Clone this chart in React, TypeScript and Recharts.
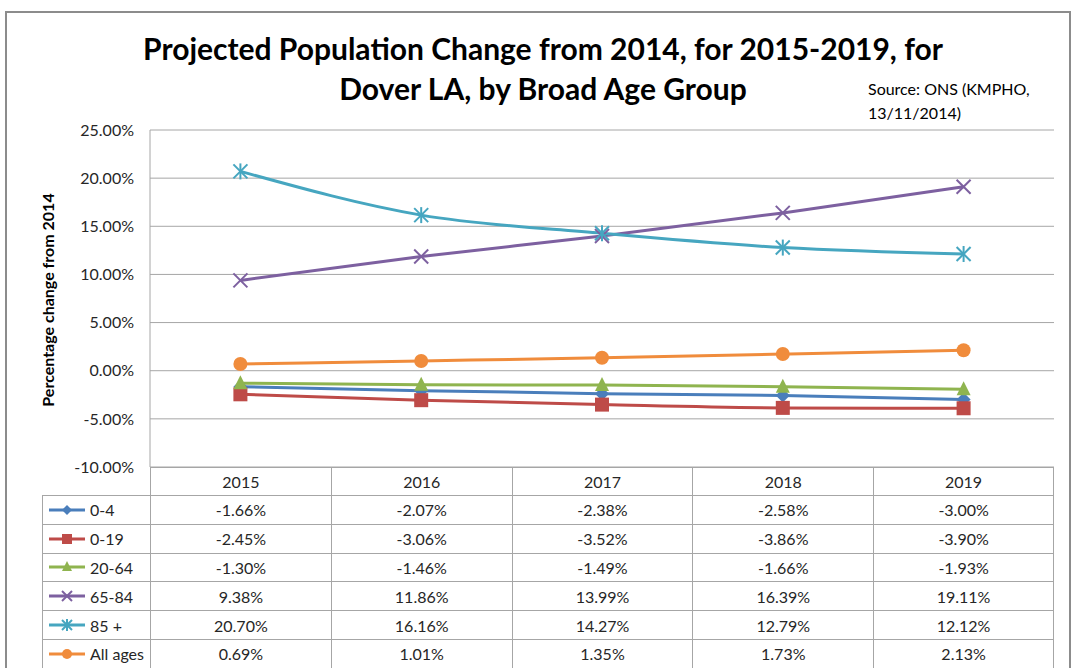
import React from "react";
import { LineChart, Line, XAxis, YAxis, CartesianGrid } from "recharts";

const years = ["2015", "2016", "2017", "2018", "2019"];
const age0to4 = [-1.66, -2.07, -2.38, -2.58, -3.0];
const age0to19 = [-2.45, -3.06, -3.52, -3.86, -3.9];
const age20to64 = [-1.3, -1.46, -1.49, -1.66, -1.93];
const age65to84 = [9.38, 11.86, 13.99, 16.39, 19.11];
const age85plus = [20.7, 16.16, 14.27, 12.79, 12.12];
const allAges = [0.69, 1.01, 1.35, 1.73, 2.13];
const yTicks = [-10, -5, 0, 5, 10, 15, 20, 25];

type Shape = "diamond" | "square" | "triangle" | "x" | "star" | "circle";

const series: { key: string; label: string; values: number[]; color: string; shape: Shape }[] = [
  { key: "a", label: "0-4", values: age0to4, color: "#4a7ebb", shape: "diamond" },
  { key: "b", label: "0-19", values: age0to19, color: "#be4b48", shape: "square" },
  { key: "c", label: "20-64", values: age20to64, color: "#8fb44f", shape: "triangle" },
  { key: "d", label: "65-84", values: age65to84, color: "#7d60a0", shape: "x" },
  { key: "e", label: "85 +", values: age85plus, color: "#46a6c0", shape: "star" },
  { key: "f", label: "All ages", values: allAges, color: "#f08c3c", shape: "circle" },
];

const rows = years.map((year, i) => {
  const row: Record<string, string | number> = { year };
  series.forEach((s) => (row[s.key] = s.values[i]));
  return row;
});

const FONT = "Lato, 'Open Sans', sans-serif";
const PLOT_LEFT = 150;
const PLOT_RIGHT = 1054;
const COL_W = (PLOT_RIGHT - PLOT_LEFT) / years.length;
const GRID = "#a6a6a6";

function Marker({ cx, cy, shape, color, r = 7 }: { cx: number; cy: number; shape: Shape; color: string; r?: number }) {
  if (cx == null || cy == null) return null;
  switch (shape) {
    case "diamond":
      return (
        <polygon
          points={`${cx},${cy - r} ${cx + r},${cy} ${cx},${cy + r} ${cx - r},${cy}`}
          fill={color}
        />
      );
    case "square":
      return <rect x={cx - r} y={cy - r} width={r * 2} height={r * 2} fill={color} />;
    case "triangle":
      return (
        <polygon
          points={`${cx},${cy - r - 1} ${cx + r},${cy + r - 1} ${cx - r},${cy + r - 1}`}
          fill={color}
        />
      );
    case "x":
      return (
        <g stroke={color} strokeWidth={2}>
          <line x1={cx - r} y1={cy - r} x2={cx + r} y2={cy + r} />
          <line x1={cx - r} y1={cy + r} x2={cx + r} y2={cy - r} />
        </g>
      );
    case "star":
      return (
        <g stroke={color} strokeWidth={2}>
          <line x1={cx - r} y1={cy - r} x2={cx + r} y2={cy + r} />
          <line x1={cx - r} y1={cy + r} x2={cx + r} y2={cy - r} />
          <line x1={cx} y1={cy - r - 1} x2={cx} y2={cy + r + 1} />
        </g>
      );
    default:
      return <circle cx={cx} cy={cy} r={r} fill={color} />;
  }
}

const fmt = (v: number) => v.toFixed(2) + "%";

function DataTable() {
  const headerTop = 467;
  const headerH = 28;
  const rowH = 28.8;
  const legendLeft = 42;
  const cellText: React.CSSProperties = {
    position: "absolute",
    display: "flex",
    alignItems: "center",
    justifyContent: "center",
    fontSize: 16,
    color: "#262626",
    boxSizing: "border-box",
  };
  return (
    <>
      {years.map((y, i) => (
        <div
          key={y}
          style={{
            ...cellText,
            left: PLOT_LEFT + i * COL_W,
            top: headerTop,
            width: COL_W,
            height: headerH,
            borderTop: `1px solid ${GRID}`,
            borderLeft: `1px solid ${GRID}`,
            borderRight: i === years.length - 1 ? `1px solid ${GRID}` : undefined,
          }}
        >
          {y}
        </div>
      ))}
      {series.map((s, r) => {
        const top = headerTop + headerH + r * rowH;
        return (
          <React.Fragment key={s.key}>
            <div
              style={{
                ...cellText,
                justifyContent: "flex-start",
                left: legendLeft,
                top,
                width: PLOT_LEFT - legendLeft,
                height: rowH,
                borderTop: `1px solid ${GRID}`,
                borderLeft: `1px solid ${GRID}`,
              }}
            >
              <svg width={40} height={16} style={{ marginLeft: 4, marginRight: 3 }}>
                <line x1={2} y1={8} x2={38} y2={8} stroke={s.color} strokeWidth={3} />
                <Marker cx={20} cy={8} shape={s.shape} color={s.color} r={5} />
              </svg>
              {s.label}
            </div>
            {s.values.map((v, i) => (
              <div
                key={i}
                style={{
                  ...cellText,
                  left: PLOT_LEFT + i * COL_W,
                  top,
                  width: COL_W,
                  height: rowH,
                  borderTop: `1px solid ${GRID}`,
                  borderLeft: `1px solid ${GRID}`,
                  borderRight: i === s.values.length - 1 ? `1px solid ${GRID}` : undefined,
                }}
              >
                {fmt(v)}
              </div>
            ))}
          </React.Fragment>
        );
      })}
    </>
  );
}

export default function App() {
  return (
    <div
      style={{
        position: "absolute",
        left: 0,
        top: 0,
        width: 1080,
        height: 668,
        background: "#fff",
        overflow: "hidden",
        fontFamily: FONT,
      }}
    >
      <div
        style={{
          position: "absolute",
          left: 5,
          top: 11,
          width: 1066,
          height: 700,
          border: "2px solid #8c8c8c",
          boxSizing: "border-box",
        }}
      />
      <div
        style={{
          position: "absolute",
          left: 0,
          width: 1086,
          top: 28,
          textAlign: "center",
          fontWeight: 700,
          fontSize: 30,
          lineHeight: "40px",
          color: "#000",
        }}
      >
        Projected Population Change from 2014, for 2015-2019, for
        <br />
        Dover LA, by Broad Age Group
      </div>
      <div
        style={{
          position: "absolute",
          left: 868,
          top: 77,
          fontSize: 16,
          lineHeight: "24px",
          color: "#000",
        }}
      >
        Source: ONS (KMPHO,
        <br />
        13/11/2014)
      </div>
      <div
        style={{
          position: "absolute",
          left: 47,
          top: 300,
          transform: "translate(-50%, -50%) rotate(-90deg)",
          whiteSpace: "nowrap",
          fontWeight: 700,
          fontSize: 16,
          color: "#000",
        }}
      >
        Percentage change from 2014
      </div>
      <LineChart
        width={1080}
        height={668}
        data={rows}
        margin={{ top: 130, right: 1080 - PLOT_RIGHT, bottom: 668 - 467, left: PLOT_LEFT - 100 }}
        style={{ position: "absolute", left: 0, top: 0 }}
      >
        <CartesianGrid vertical={false} stroke={GRID} />
        <XAxis
          dataKey="year"
          hide
          height={0}
          padding={{ left: COL_W / 2, right: COL_W / 2 }}
        />
        <YAxis
          width={100}
          domain={[-10, 25]}
          ticks={yTicks}
          tickFormatter={fmt}
          tickLine={false}
          tickMargin={10}
          axisLine={{ stroke: GRID }}
          tick={{ fontSize: 16, fill: "#262626", fontFamily: FONT }}
        />
        {series.map((s) => (
          <Line
            key={s.key}
            dataKey={s.key}
            name={s.label}
            type="monotone"
            stroke={s.color}
            strokeWidth={3}
            isAnimationActive={false}
            dot={(p: any) => (
              <Marker key={`${s.key}-${p.index}`} cx={p.cx} cy={p.cy} shape={s.shape} color={s.color} />
            )}
            activeDot={false}
          />
        ))}
      </LineChart>
      <DataTable />
    </div>
  );
}
